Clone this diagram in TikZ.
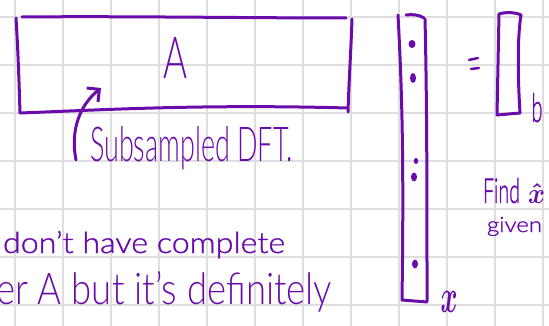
\documentclass[tikz,border=0pt]{standalone}
\usepackage{fontspec}
\setmainfont{Lato Light}
\newfontfamily\handmid[FakeBold=1.2,Ligatures=TeX]{Lato Light}
\usetikzlibrary{arrows.meta}
\definecolor{ink}{RGB}{106,12,172}
\definecolor{gridline}{RGB}{222,222,222}
\tikzset{
  pen/.style={draw=ink, line width=3pt, line cap=round, line join=round},
  ink text/.style={text=ink, inner sep=0pt, outer sep=0pt},
  gridrule/.style={draw=gridline, line width=1.5pt},
}
\begin{document}
\begin{tikzpicture}[x=1pt,y=-1pt]
\useasboundingbox (0,0) rectangle (549,326);
\clip (0,0) rectangle (549,326);
% squared paper
\foreach \gx in {15,63,...,543} \draw[gridrule] (\gx,0) -- (\gx,326);
\foreach \gy in {17,65,...,305} \draw[gridrule] (0,\gy) -- (549,\gy);

% matrix A
\draw[pen] (16,18) .. controls (18,50) and (19,80) .. (20,113);
\draw[pen] (22,17) .. controls (120,16) and (250,18) .. (346,18);
\draw[pen] (20,113) .. controls (100,110) and (200,104) .. (348,108);
\draw[pen] (352,19) .. controls (351,50) and (349,80) .. (348,112);
\node[ink text] (Alabel) at (175,57.5) {\resizebox{24pt}{41pt}{A}};

% note pointing at the matrix
\node[ink text, anchor=base west] (dftlabel) at (90,162) {\resizebox{203pt}{35pt}{Subsampled DFT.}};
\coordinate (arrowtail) at (76,160);
\coordinate (arrowtip) at (101,88);
\draw[pen, -{Straight Barb[length=9pt,width=18pt]}] (arrowtail) .. controls (70,130) and (80,105) .. (arrowtip);

% vector x
\draw[pen] (398,15) .. controls (402,90) and (404,160) .. (402,300);
\draw[pen] (406,15) .. controls (412,14) and (420,15) .. (424,18);
\draw[pen] (425,19) .. controls (427,100) and (427,200) .. (427,301);
\draw[pen] (402,300) -- (427,302);
\fill[ink] (412,44) ellipse (3.5pt and 4pt);
\fill[ink] (413,78) ellipse (3pt and 5pt);
\fill[ink] (416,161) ellipse (2.3pt and 3pt);
\fill[ink] (414,177) ellipse (3pt and 4.5pt);
\fill[ink] (415,264) ellipse (3pt and 4.5pt);
\node[ink text] (xlabel) at (449,302) {\resizebox{17pt}{21pt}{\boldmath$x$}};

% equals sign
\draw[pen, line width=2.5pt] (469,60) -- (478,58);
\draw[pen, line width=2.5pt] (471,69) -- (479,68);

% vector b
\draw[pen] (499,14) .. controls (505,12) and (515,12) .. (521,15);
\draw[pen] (499,14) -- (497,115);
\draw[pen] (521,15) .. controls (517,40) and (518,80) .. (520,113);
\draw[pen] (497,115) -- (520,113);
\node[ink text, anchor=base] (blabel) at (537,122) {\resizebox{11pt}{29pt}{\handmid b}};

% side note
\node[ink text, anchor=base west] (find) at (483,203) {\resizebox{37pt}{25pt}{\handmid Find}};
\node[ink text, anchor=base west] (xhat) at (528,204) {\resizebox{17pt}{20pt}{\boldmath$\hat{x}$}};
\node[ink text, anchor=base west] (given) at (487,232) {\resizebox{55pt}{15pt}{\handmid given}};

% running text
\node[ink text, anchor=base west] (line1) at (3,253) {\resizebox{282pt}{22pt}{\handmid don't have complete}};
\node[ink text, anchor=base west] (line2) at (-4,304) {\resizebox{336pt}{33pt}{er A but it's definitely}};
\end{tikzpicture}
\end{document}
